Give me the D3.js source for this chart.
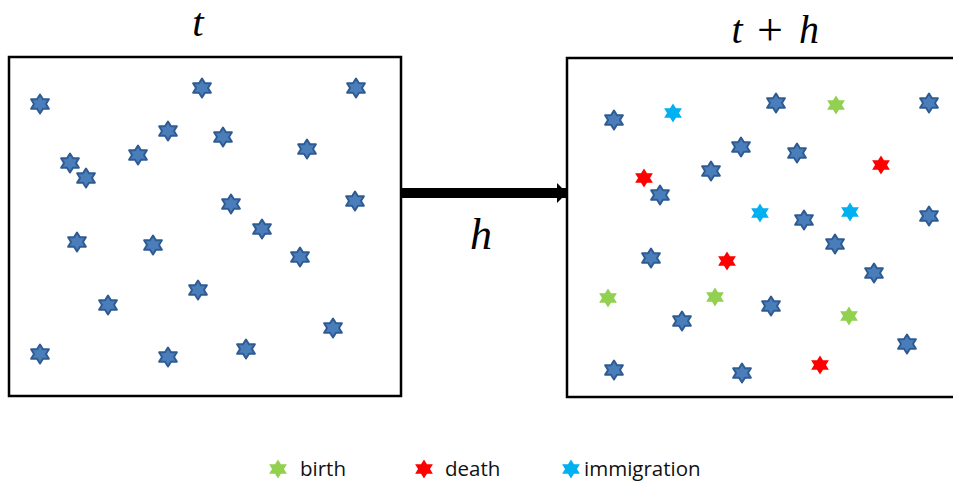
<!DOCTYPE html>
<html>
<head>
<meta charset="utf-8">
<script src="https://cdn.jsdelivr.net/npm/d3@7"></script>
<style>
  body { margin: 0; background: #fff; }
  svg { display: block; }
</style>
</head>
<body>
<div id="chart"></div>
<script>
// star positions inside each panel (panel units, origin top-left)
var beforeX = [31, 193, 347, 159, 214, 129, 298, 61, 77, 222, 346, 253, 68, 144, 291, 189, 99, 324, 31, 159, 237];
var beforeY = [47, 31, 31, 74, 80, 98, 92, 106, 121, 147, 144, 172, 185, 188, 200, 233, 248, 271, 297, 300, 292];

var survivorX = [47, 209, 362, 174, 230, 144, 93, 237, 362, 268, 84, 307, 204, 115, 340, 47, 175];
var survivorY = [62, 45, 45, 89, 95, 113, 137, 162, 158, 186, 200, 215, 248, 263, 286, 312, 315];
var birthX = [269, 41, 148, 282];
var birthY = [47, 240, 239, 258];
var deathX = [314, 77, 160, 253];
var deathY = [107, 120, 203, 307];
var immigX = [106, 193, 283];
var immigY = [55, 155, 154];

var legendLabels = ["birth", "death", "immigration"];
var legendColors = ["#92d050", "#ff0000", "#00b0f0"];

var width = 953,
    height = 488;

var svg = d3.select("#chart").append("svg")
    .attr("width", width)
    .attr("height", height);

var panelW = 392, panelH = 339;
// title pieces with their centre x
var panels = [
  { x: 9, y: 57, title: ["t"], tx: [198], ty: 36, size: 41 },
  { x: 567, y: 58, title: ["t", "+", "h"], tx: [737, 770, 809], ty: 43, size: 40 }
];

var mathFont = "'Liberation Serif', 'Times New Roman', serif";

// hexagram path, point up
function star(R) {
  var r = R * 0.58, pts = [];
  for (var i = 0; i < 12; i++) {
    var a = Math.PI / 6 * i - Math.PI / 2;
    var rr = i % 2 === 0 ? R : r;
    pts.push([rr * Math.cos(a) * 1.08, rr * Math.sin(a)]);
  }
  return "M" + pts.join("L") + "Z";
}
var starPath = star(9.5);

function drawPanel(p, groups) {
  var x = d3.scaleLinear().domain([0, panelW]).range([p.x, p.x + panelW]);
  var y = d3.scaleLinear().domain([0, panelH]).range([p.y, p.y + panelH]);

  svg.append("rect")
      .attr("x", x(0)).attr("y", y(0))
      .attr("width", x(panelW) - x(0)).attr("height", y(panelH) - y(0))
      .attr("fill", "none")
      .attr("stroke", "#000")
      .attr("stroke-width", 2.5);

  groups.forEach(function(g) {
    svg.selectAll(null)
        .data(d3.zip(g.xs, g.ys))
        .enter().append("path")
        .attr("d", starPath)
        .attr("transform", function(d) { return "translate(" + x(d[0]) + "," + y(d[1]) + ")"; })
        .attr("fill", g.fill)
        .attr("stroke", g.stroke || "none")
        .attr("stroke-width", 2)
        .attr("stroke-linejoin", "round");
  });

  svg.selectAll(null)
      .data(p.title)
      .enter().append("text")
      .attr("x", function(d, i) { return p.tx[i]; })
      .attr("y", function(d) { return d === "+" ? p.ty + 2 : p.ty; })
      .attr("text-anchor", "middle")
      .style("font-family", mathFont)
      .style("font-size", function(d) { return (d === "+" ? p.size * 1.15 : p.size) + "px"; })
      .style("font-style", function(d) { return d === "+" ? "normal" : "italic"; })
      .text(function(d) { return d; });
}

var blue = { fill: "#4a7ebb", stroke: "#2f5b93" };

drawPanel(panels[0], [
  { xs: beforeX, ys: beforeY, fill: blue.fill, stroke: blue.stroke }
]);
drawPanel(panels[1], [
  { xs: survivorX, ys: survivorY, fill: blue.fill, stroke: blue.stroke },
  { xs: birthX, ys: birthY, fill: legendColors[0] },
  { xs: deathX, ys: deathY, fill: legendColors[1] },
  { xs: immigX, ys: immigY, fill: legendColors[2] }
]);

// arrow between panels
svg.append("defs").append("marker")
    .attr("id", "head")
    .attr("viewBox", "0 0 10 20")
    .attr("refX", 10).attr("refY", 10)
    .attr("markerWidth", 10).attr("markerHeight", 20)
    .attr("markerUnits", "userSpaceOnUse")
    .attr("orient", "auto")
  .append("path")
    .attr("d", "M0,0L10,10L0,20Z")
    .attr("fill", "#000");

svg.append("line")
    .attr("x1", 401).attr("y1", 193)
    .attr("x2", 567).attr("y2", 193)
    .attr("stroke", "#000")
    .attr("stroke-width", 10)
    .attr("marker-end", "url(#head)");

svg.append("text")
    .attr("x", 481).attr("y", 249)
    .attr("text-anchor", "middle")
    .style("font-family", mathFont)
    .style("font-style", "italic")
    .style("font-size", "44px")
    .text("h");

// legend
var legendX = [278, 424, 571];
var textX = [300, 445, 584];
var legend = svg.selectAll(".legend")
    .data(legendLabels)
    .enter().append("g")
    .attr("class", "legend");

legend.append("path")
    .attr("d", starPath)
    .attr("transform", function(d, i) { return "translate(" + legendX[i] + ",469)"; })
    .attr("fill", function(d, i) { return legendColors[i]; });

legend.append("text")
    .attr("x", function(d, i) { return textX[i]; })
    .attr("y", 476)
    .style("font-family", "'Open Sans', sans-serif")
    .style("font-size", "20.5px")
    .attr("fill", "#111")
    .text(function(d) { return d; });
</script>
</body>
</html>
